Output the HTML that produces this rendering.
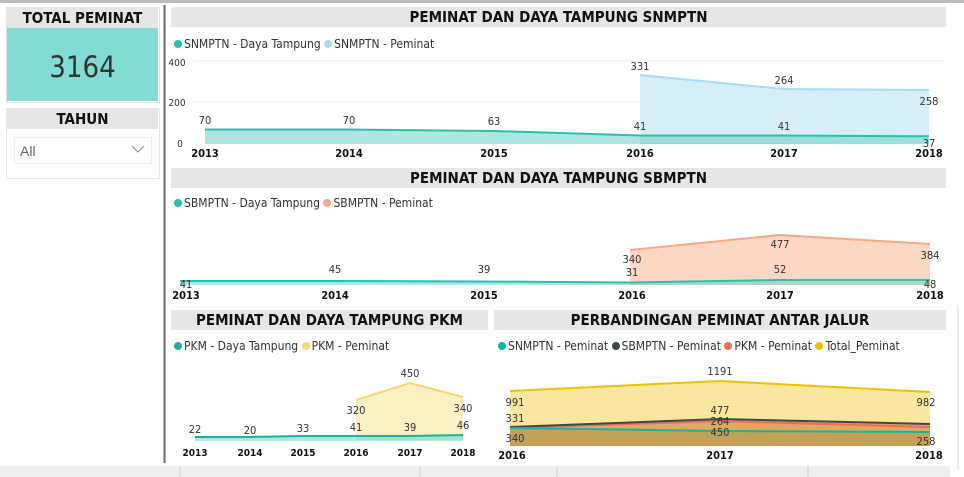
<!DOCTYPE html>
<html><head><meta charset="utf-8"><style>
body{margin:0;width:964px;height:477px;background:#fff;position:relative;overflow:hidden;font-family:"DejaVu Sans Condensed","Liberation Sans",sans-serif;}
.a{position:absolute}
.hd{position:absolute;background:#e6e6e6;text-align:center;font-weight:bold;color:#111;font-size:15px;line-height:20px;font-family:"DejaVu Sans Condensed","Liberation Sans",sans-serif}
.lg{position:absolute;font-size:12px;color:#333;white-space:nowrap}
.dot{display:inline-block;width:8px;height:8px;border-radius:50%;margin-right:2px;vertical-align:0px}
svg{position:absolute;left:0;top:0}
</style></head><body>
<div class="a" style="left:0;top:0;width:964px;height:3px;background:#bbb"></div>
<div class="a" style="left:6px;top:7px;width:152px;height:94px;border:1px solid #d8e8e6"></div>
<div class="hd" style="left:7px;top:8px;width:151px;font-size:15px">TOTAL PEMINAT</div>
<div class="a" style="left:7px;top:28px;width:151px;height:73px;background:#80dcd4;text-align:center;font-size:29px;line-height:78px;color:#333">3164</div>
<div class="a" style="left:6px;top:108px;width:152px;height:69px;border:1px solid #e6e6e6"></div>
<div class="hd" style="left:7px;top:109px;width:151px">TAHUN</div>
<div class="a" style="left:14px;top:137px;width:136px;height:25px;border:1px solid #eee;font-family:'Liberation Sans',sans-serif;font-size:14px;color:#666;line-height:26px;text-indent:5px">All</div>
<svg width="964" height="477">
<polyline points="132,146 138,152 144,146" fill="none" stroke="#888" stroke-width="1"/>
<line x1="164.5" y1="5" x2="164.5" y2="463" stroke="#666" stroke-width="2"/>
<line x1="958" y1="305" x2="958" y2="470" stroke="#ebebeb" stroke-width="2"/>
<rect x="0" y="466" width="950" height="11" fill="#efefef"/>
<line x1="180" y1="466" x2="180" y2="477" stroke="#ccc"/><line x1="420" y1="466" x2="420" y2="477" stroke="#ccc"/><line x1="557" y1="466" x2="557" y2="477" stroke="#ccc"/><line x1="808" y1="466" x2="808" y2="477" stroke="#ccc"/>

<line x1="193" y1="61" x2="946" y2="61" stroke="#eee"/><line x1="193" y1="102" x2="946" y2="102" stroke="#eee"/>
<polygon points="640,75 784,89 929,90 929,144 640,144" fill="#d5eef7"/>
<polyline points="640,75 784,89 929,90" fill="none" stroke="#a9dcee" stroke-width="2"/>
<polygon points="205,129.5 349,129.5 494,131 640,135.5 784,135.5 929,136.3 929,144 205,144" fill="#5fcfc2" fill-opacity="0.5"/>
<polyline points="205,129.5 349,129.5 494,131 640,135.5 784,135.5 929,136.3" fill="none" stroke="#2bbfae" stroke-width="2"/>
<g font-size="11" fill="#333" text-anchor="middle">
<text x="177" y="66" font-size="10">400</text><text x="177" y="106" font-size="10">200</text><text x="180" y="147" font-size="10">0</text>
<text x="205" y="124">70</text><text x="349" y="124">70</text><text x="494" y="125">63</text><text x="640" y="130">41</text><text x="784" y="130">41</text><text x="929" y="147">37</text>
<text x="640" y="70">331</text><text x="784" y="84">264</text><text x="929" y="105">258</text>
</g>
<g font-size="11" font-weight="bold" fill="#111" text-anchor="middle">
<text x="205" y="157">2013</text><text x="349" y="157">2014</text><text x="494" y="157">2015</text><text x="640" y="157">2016</text><text x="784" y="157">2017</text><text x="929" y="157">2018</text>
</g>

<polygon points="630,250 780,235 930,244 930,285 630,285" fill="#fdd6c4"/>
<polyline points="630,250 780,235 930,244" fill="none" stroke="#f7a888" stroke-width="2"/>
<polygon points="180,281 330,281 480,281.5 630,282.5 780,280 930,280 930,285 180,285" fill="#5fcfc2" fill-opacity="0.5"/>
<polyline points="180,281 330,281 480,281.5 630,282.5 780,280 930,280" fill="none" stroke="#2bbfae" stroke-width="2"/>
<g font-size="11" fill="#333" text-anchor="middle">
<text x="186" y="288">41</text><text x="335" y="273">45</text><text x="484" y="273">39</text><text x="632" y="276">31</text><text x="780" y="273">52</text><text x="930" y="288">48</text>
<text x="632" y="263">340</text><text x="780" y="248">477</text><text x="930" y="259">384</text>
</g>
<g font-size="11" font-weight="bold" fill="#111" text-anchor="middle">
<text x="186" y="299">2013</text><text x="335" y="299">2014</text><text x="484" y="299">2015</text><text x="632" y="299">2016</text><text x="780" y="299">2017</text><text x="930" y="299">2018</text>
</g>

<polygon points="356,400 410,383 463,397 463,440 356,440" fill="#fbefc4"/>
<polyline points="356,400 410,383 463,397" fill="none" stroke="#f6d66e" stroke-width="2"/>
<polygon points="195,437 250,437 303,436 356,436 410,436 463,435 463,441 195,441" fill="#5fcfc2" fill-opacity="0.5"/>
<polyline points="195,437 250,437 303,436 356,436 410,436 463,435" fill="none" stroke="#1ab3a0" stroke-width="2"/>
<g font-size="11" fill="#333" text-anchor="middle">
<text x="195" y="433">22</text><text x="250" y="434">20</text><text x="303" y="432">33</text><text x="356" y="431">41</text><text x="410" y="431">39</text><text x="463" y="429">46</text>
<text x="356" y="414">320</text><text x="410" y="377">450</text><text x="463" y="412">340</text>
</g>
<g font-size="10" font-weight="bold" fill="#111" text-anchor="middle">
<text x="195" y="456">2013</text><text x="250" y="456">2014</text><text x="303" y="456">2015</text><text x="356" y="456">2016</text><text x="410" y="456">2017</text><text x="463" y="456">2018</text>
</g>

<polygon points="510,391 720,381 930,392 930,446 510,446" fill="#f9e7a0"/>
<polyline points="510,391 720,381 930,392" fill="none" stroke="#eec200" stroke-width="2"/>
<polygon points="510,427 720,419 930,424 930,446 510,446" fill="#dfa865"/>
<polygon points="510,428 720,431 930,432 930,446 510,446" fill="#c4a158"/>
<polyline points="510,428 720,421 930,427" fill="none" stroke="#ee6b60" stroke-width="2"/>
<polyline points="510,427 720,419 930,424" fill="none" stroke="#3b4a4a" stroke-width="2"/>
<polyline points="510,428 720,431 930,432" fill="none" stroke="#12b5a6" stroke-width="2"/>
<g font-size="11" fill="#333" text-anchor="middle">
<text x="515" y="406">991</text><text x="720" y="375">1191</text><text x="926" y="406">982</text>
<text x="515" y="422">331</text><text x="720" y="414">477</text><text x="720" y="425">264</text><text x="720" y="436">450</text>
<text x="515" y="442">340</text><text x="926" y="445">258</text>
</g>
<g font-size="11" font-weight="bold" fill="#111" text-anchor="middle">
<text x="512" y="459">2016</text><text x="720" y="459">2017</text><text x="929" y="459">2018</text>
</g>
</svg>
<div class="hd" style="left:171px;top:7px;width:775px">PEMINAT DAN DAYA TAMPUNG SNMPTN</div>
<div class="lg" style="left:174px;top:37px"><span class="dot" style="background:#2bbfae"></span>SNMPTN - Daya Tampung <span class="dot" style="background:#a9dcee"></span>SNMPTN - Peminat</div>
<div class="hd" style="left:171px;top:168px;width:775px">PEMINAT DAN DAYA TAMPUNG SBMPTN</div>
<div class="lg" style="left:174px;top:196px"><span class="dot" style="background:#2bbfae"></span>SBMPTN - Daya Tampung <span class="dot" style="background:#f7a888"></span>SBMPTN - Peminat</div>
<div class="hd" style="left:171px;top:310px;width:317px">PEMINAT DAN DAYA TAMPUNG PKM</div>
<div class="lg" style="left:174px;top:339px"><span class="dot" style="background:#1ab3a0"></span>PKM - Daya Tampung <span class="dot" style="background:#f6d66e"></span>PKM - Peminat</div>
<div class="hd" style="left:494px;top:310px;width:452px">PERBANDINGAN PEMINAT ANTAR JALUR</div>
<div class="lg" style="left:498px;top:339px"><span class="dot" style="background:#12b5a6"></span>SNMPTN - Peminat <span class="dot" style="background:#3b4a4a"></span>SBMPTN - Peminat <span class="dot" style="background:#ee6b60"></span>PKM - Peminat <span class="dot" style="background:#eec200"></span>Total_Peminat</div>
</body></html>
